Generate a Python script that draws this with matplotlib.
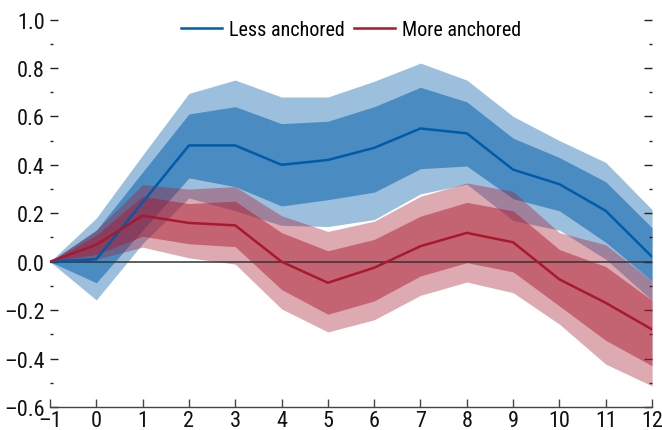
import matplotlib
matplotlib.use("Agg")
import matplotlib.pyplot as plt
from matplotlib.ticker import MultipleLocator, FixedLocator
from matplotlib import font_manager

# ---------------- data ----------------
horizon = [-1, 0, 1, 2, 3, 4, 5, 6, 7, 8, 9, 10, 11, 12]

less_mid = [0.0, 0.01, 0.245, 0.48, 0.48, 0.40, 0.42, 0.47, 0.55, 0.53, 0.38, 0.32, 0.21, 0.02]
less_in_hi = [0.0, 0.13, 0.37, 0.61, 0.64, 0.57, 0.58, 0.64, 0.72, 0.66, 0.51, 0.43, 0.33, 0.14]
less_in_lo = [0.0, -0.087, 0.13, 0.346, 0.31, 0.23, 0.256, 0.287, 0.384, 0.395, 0.26, 0.21, 0.08, -0.08]
less_out_hi = [0.0, 0.18, 0.44, 0.695, 0.75, 0.68, 0.68, 0.745, 0.82, 0.75, 0.60, 0.50, 0.41, 0.215]
less_out_lo = [0.0, -0.158, 0.075, 0.263, 0.21, 0.15, 0.145, 0.174, 0.28, 0.32, 0.17, 0.13, 0.01, -0.16]

more_mid = [0.0, 0.07, 0.19, 0.16, 0.15, 0.0, -0.087, -0.025, 0.064, 0.119, 0.08, -0.073, -0.17, -0.28]
more_in_hi = [0.0, 0.11, 0.27, 0.24, 0.25, 0.12, 0.045, 0.092, 0.188, 0.245, 0.21, 0.05, -0.02, -0.16]
more_in_lo = [0.0, 0.03, 0.105, 0.074, 0.062, -0.115, -0.217, -0.162, -0.059, -0.004, -0.042, -0.183, -0.325, -0.43]
more_out_hi = [0.0, 0.13, 0.318, 0.30, 0.31, 0.19, 0.125, 0.167, 0.27, 0.325, 0.29, 0.12, 0.07, -0.08]
more_out_lo = [0.0, 0.01, 0.06, 0.016, -0.01, -0.195, -0.29, -0.24, -0.139, -0.084, -0.128, -0.258, -0.423, -0.513]

series_labels = ["Less anchored", "More anchored"]
x_ticks = list(range(-1, 13))
y_ticks = [-0.6, -0.4, -0.2, 0.0, 0.2, 0.4, 0.6, 0.8, 1.0]


# ---------------- font: pick a condensed sans if one is installed ----------------
def pick_font():
    fl = font_manager.fontManager.ttflist
    prefs = ["Liberation Sans Narrow", "Arial Narrow", "Roboto Condensed",
             "Open Sans Condensed", "Noto Sans Condensed", "Noto Sans SemiCondensed"]
    for p in prefs:
        for f in fl:
            if f.name == p and f.style == "normal" and f.weight in (400, "normal", "regular"):
                return f.fname
        for f in fl:
            if f.name == p:
                return f.fname
    for fam in ["Liberation Sans", "Roboto", "Noto Sans", "Open Sans", "DejaVu Sans"]:
        for f in fl:
            if f.name == fam and str(f.stretch) in ("condensed", "semi-condensed") and f.style == "normal" \
                    and f.weight in (400, "normal", "regular"):
                return f.fname
    for f in fl:
        n = f.name.lower()
        if ("narrow" in n or "condensed" in n) and "bold" not in f.fname.lower():
            return f.fname
    return None


fpath = pick_font()
if fpath:
    FP_TICK = font_manager.FontProperties(fname=fpath, size=16)
    FP_LEG = font_manager.FontProperties(fname=fpath, size=14.5)
else:
    FP_TICK = font_manager.FontProperties(family="Liberation Sans", size=14)
    FP_LEG = font_manager.FontProperties(family="Liberation Sans", size=13)

BLUE = "#005ca8"
RED = "#a8192e"
DASH = "\u2013"

fig = plt.figure(figsize=(6.62, 4.31), dpi=100)
ax = fig.add_axes([0.0755, 0.0534, 0.9095, 0.899])

ax.fill_between(horizon, less_out_lo, less_out_hi, color=BLUE, alpha=0.39, lw=0, zorder=1)
ax.fill_between(horizon, less_in_lo, less_in_hi, color=BLUE, alpha=0.52, lw=0, zorder=1)
ax.fill_between(horizon, more_out_lo, more_out_hi, color=RED, alpha=0.37, lw=0, zorder=2)
ax.fill_between(horizon, more_in_lo, more_in_hi, color=RED, alpha=0.48, lw=0, zorder=2)

ax.axhline(0, color="#333333", lw=1.1, zorder=3)
ax.plot(horizon, less_mid, color=BLUE, lw=1.8, label=series_labels[0], zorder=4)
ax.plot(horizon, more_mid, color=RED, lw=1.8, label=series_labels[1], zorder=4)

ax.set_xlim(-1, 12)
ax.set_ylim(-0.6, 1.0)
ax.xaxis.set_major_locator(FixedLocator(x_ticks))
ax.yaxis.set_major_locator(FixedLocator(y_ticks))
ax.yaxis.set_minor_locator(MultipleLocator(0.1))
ax.set_xticklabels([str(v).replace("-", DASH) for v in x_ticks])
ax.set_yticklabels([f"{v:.1f}".replace("-", DASH) for v in y_ticks])

for s in ("left", "right", "top"):
    ax.spines[s].set_visible(False)
ax.spines["bottom"].set_color("#444444")
ax.spines["bottom"].set_linewidth(1.0)

ax.tick_params(axis="y", which="both", direction="in", left=True, right=True,
               labelright=False, colors="#222222", labelcolor="#111111")
ax.tick_params(axis="y", which="major", length=5.5, width=1.0, pad=3.5)
ax.tick_params(axis="y", which="minor", length=2.2, width=1.0)
ax.tick_params(axis="x", which="major", direction="in", length=5.5, width=1.0,
               pad=2.5, colors="#444444", labelcolor="#111111")

for lbl in ax.get_xticklabels() + ax.get_yticklabels():
    lbl.set_fontproperties(FP_TICK)

leg = ax.legend(loc="upper center", bbox_to_anchor=(0.5, 1.045), ncol=2, frameon=False,
                prop=FP_LEG, handlelength=2.0, handletextpad=0.35, columnspacing=0.5)

fig.savefig("out.png", dpi=100)
